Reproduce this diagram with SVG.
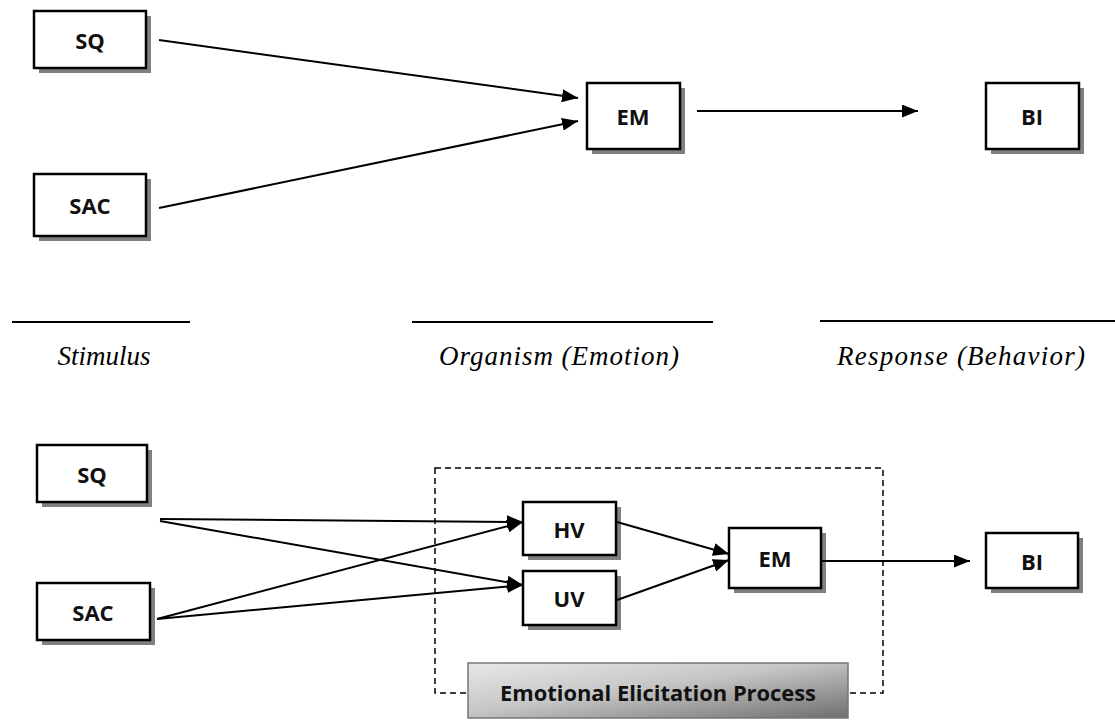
<svg xmlns="http://www.w3.org/2000/svg" width="1115" height="721" viewBox="0 0 1115 721">
  <style>
    .box { fill: #ffffff; stroke: #000000; stroke-width: 2.5; }
    .shadow { fill: #808080; }
    .lbl { font-family: "Open Sans", "Liberation Sans", sans-serif; font-weight: bold; font-size: 22px; fill: #111; text-anchor: middle; dominant-baseline: central; }
    .stage { font-family: "Liberation Serif", serif; font-style: italic; font-size: 27px; fill: #000; text-anchor: middle; }
    .edge { stroke: #000; stroke-width: 2; fill: none; marker-end: url(#arrow); }
    .rule { stroke: #000; stroke-width: 2; }
  </style>
  <defs>
    <marker id="arrow" markerWidth="16" markerHeight="13" refX="16" refY="6.5" orient="auto" markerUnits="userSpaceOnUse">
      <path d="M0,0 L16,6.5 L0,13 z" fill="#000"/>
    </marker>
    <linearGradient id="banner" x1="0" y1="0" x2="1" y2="1">
      <stop offset="0" stop-color="#e8e8e8"/>
      <stop offset="0.45" stop-color="#c6c6c6"/>
      <stop offset="1" stop-color="#6e6e6e"/>
    </linearGradient>
  </defs>

  <!-- upper model: S-O-R -->
  <g id="top-sq">
    <rect class="shadow" x="39" y="16" width="112" height="57"/>
    <rect class="box" x="34" y="11" width="112" height="57"/>
    <text class="lbl" x="90" y="40">SQ</text>
  </g>
  <g id="top-sac">
    <rect class="shadow" x="39" y="179" width="112" height="62"/>
    <rect class="box" x="34" y="174" width="112" height="62"/>
    <text class="lbl" x="90" y="205">SAC</text>
  </g>
  <g id="top-em">
    <rect class="shadow" x="592" y="88" width="93" height="66"/>
    <rect class="box" x="587" y="83" width="93" height="66"/>
    <text class="lbl" x="633" y="116">EM</text>
  </g>
  <g id="top-bi">
    <rect class="shadow" x="991" y="88" width="93" height="66"/>
    <rect class="box" x="986" y="83" width="93" height="66"/>
    <text class="lbl" x="1032" y="116">BI</text>
  </g>

  <!-- stage labels -->
  <g id="stages">
    <line class="rule" x1="12" y1="322" x2="190" y2="322"/>
    <line class="rule" x1="412" y1="322" x2="713" y2="322"/>
    <line class="rule" x1="820" y1="321" x2="1115" y2="321"/>
    <text class="stage" x="104" y="365">Stimulus</text>
    <text class="stage" x="559" y="365" textLength="240" lengthAdjust="spacing">Organism (Emotion)</text>
    <text class="stage" x="961" y="365" textLength="248" lengthAdjust="spacing">Response (Behavior)</text>
  </g>

  <!-- lower model: emotional elicitation -->
  <g id="process-frame">
    <rect x="435" y="468" width="448" height="225" fill="none" stroke="#000" stroke-width="1.5" stroke-dasharray="6,4"/>
  </g>
  <g id="bottom-sq">
    <rect class="shadow" x="42" y="450" width="110" height="57"/>
    <rect class="box" x="37" y="445" width="110" height="57"/>
    <text class="lbl" x="92" y="474">SQ</text>
  </g>
  <g id="bottom-sac">
    <rect class="shadow" x="42" y="588" width="113" height="57"/>
    <rect class="box" x="37" y="583" width="113" height="57"/>
    <text class="lbl" x="93" y="612">SAC</text>
  </g>
  <g id="bottom-hv">
    <rect class="shadow" x="528" y="507" width="93" height="53"/>
    <rect class="box" x="523" y="502" width="93" height="53"/>
    <text class="lbl" x="569" y="529">HV</text>
  </g>
  <g id="bottom-uv">
    <rect class="shadow" x="528" y="576" width="93" height="54"/>
    <rect class="box" x="523" y="571" width="93" height="54"/>
    <text class="lbl" x="569" y="598">UV</text>
  </g>
  <g id="bottom-em">
    <rect class="shadow" x="734" y="533" width="92" height="60"/>
    <rect class="box" x="729" y="528" width="92" height="60"/>
    <text class="lbl" x="775" y="558">EM</text>
  </g>
  <g id="bottom-bi">
    <rect class="shadow" x="991" y="538" width="92" height="55"/>
    <rect class="box" x="986" y="533" width="92" height="55"/>
    <text class="lbl" x="1032" y="561">BI</text>
  </g>
  <g id="process-banner">
    <rect x="468" y="663" width="380" height="55" fill="url(#banner)" stroke="#777" stroke-width="1.5"/>
    <text class="lbl" x="658" y="692" textLength="316" lengthAdjust="spacingAndGlyphs">Emotional Elicitation Process</text>
  </g>

  <!-- connectors -->
  <g id="connectors">
    <line class="edge" x1="159" y1="40" x2="578" y2="98"/>
    <line class="edge" x1="159" y1="208" x2="578" y2="121"/>
    <line class="edge" x1="697" y1="111" x2="918" y2="111"/>

    <line class="edge" x1="160" y1="519" x2="523" y2="522"/>
    <line class="edge" x1="160" y1="521" x2="523" y2="585"/>
    <line class="edge" x1="157" y1="619" x2="523" y2="522"/>
    <line class="edge" x1="157" y1="619" x2="523" y2="585"/>
    <line class="edge" x1="617" y1="522" x2="729" y2="554"/>
    <line class="edge" x1="617" y1="600" x2="729" y2="560"/>
    <line class="edge" x1="821" y1="561" x2="970" y2="561"/>
  </g>
</svg>
